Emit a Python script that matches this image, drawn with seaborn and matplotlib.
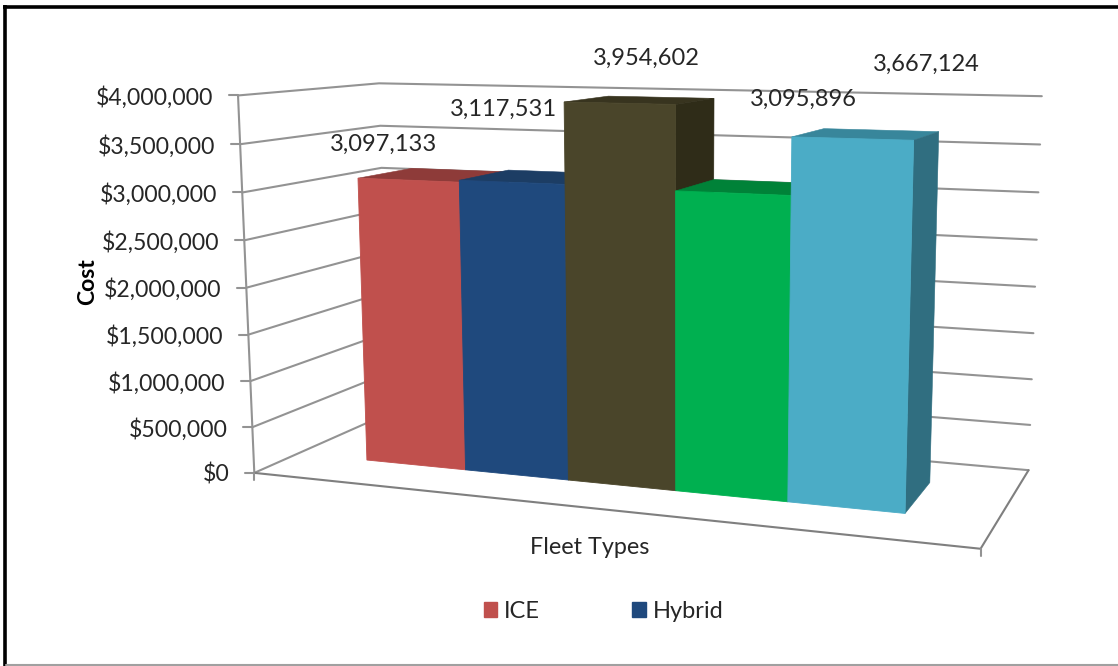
import numpy as np
import pandas as pd
import seaborn as sns
import matplotlib.pyplot as plt
from matplotlib.patches import Patch, Polygon
from matplotlib.transforms import Transform

# values
fleets = ['ICE', 'Hybrid', 'Fleet 3', 'Fleet 4', 'Fleet 5']
costs = [3097133, 3117531, 3954602, 3095896, 3667124]
front_colors = ['#C0504D', '#1F497D', '#4A452A', '#00B050', '#4BACC6']
top_colors = ['#8E3B39', '#1C3D64', '#38341F', '#008238', '#38869B']
side_colors = ['#7F3331', '#17324F', '#2F2C18', '#006A2E', '#306E80']
tick_values = [0, 500000, 1000000, 1500000, 2000000, 2500000, 3000000, 3500000, 4000000]
# the labels were dragged around by hand in the original, centres in pixels
label_spots = [(384, 144.5), (503, 109.5), (646, 58), (803, 99), (926, 64)]

W, H = 1118, 666
TOP = 4000000
GRID = '#939393'
TEXT = '#262626'

sns.set_style('white')
plt.rcParams['font.family'] = ['Lato', 'DejaVu Sans']

# the box of the 3D chart: (along x, up, depth) -> pixel, fitted to the corners seen in the picture
corners = [((0, 0, 0), (253, 473)), ((1, 0, 0), (981, 548)), ((0, 0, 1), (390, 413)),
           ((1, 0, 1), (1028, 471)), ((0, 1, 0), (239, 96)), ((0, 1, 1), (378, 83)),
           ((1, 1, 1), (1042, 96))]
rows, rhs = [], []
for (a, b, c), (px, py) in corners:
    rows.append([a, b, c, 1, 0, 0, 0, 0, -px*a, -px*b, -px*c])
    rhs.append(px)
    rows.append([0, 0, 0, 0, a, b, c, 1, -py*a, -py*b, -py*c])
    rhs.append(py)
# a vertical edge stays a straight line, so 7 corners are enough for the 11 unknowns
sol = np.linalg.lstsq(np.array(rows, float), np.array(rhs, float), rcond=None)[0]
P = np.append(sol, 1.0).reshape(3, 4)


def project(u, v, w):
    q = P @ np.array([u, v / TOP, w, 1.0])
    return q[0] / q[2], q[1] / q[2]


# where the bars sit inside the box
U_LEFT, U_RIGHT = 0.111, 0.884
W_FRONT, W_BACK = 0.30, 0.71


def to_u(x):
    return U_LEFT + (x + 0.5) / len(fleets) * (U_RIGHT - U_LEFT)


class FrontFace(Transform):
    # sends the (category, value) of the barplot to pixels on the front plane of the bars
    input_dims = 2
    output_dims = 2
    is_affine = False

    def transform_non_affine(self, xy):
        xy = np.asarray(xy, float)
        return np.array([project(to_u(x), y, W_FRONT) for x, y in xy])


fig = plt.figure(figsize=(W / 100, H / 100), dpi=100)
box = fig.add_axes([0, 0, 1, 1], zorder=0)
box.set_xlim(0, W)
box.set_ylim(H, 0)
box.axis('off')

# walls and floor
for tv in tick_values:
    a = project(0, tv, 0)
    b = project(0, tv, 1)
    c = project(1, tv, 1)
    box.plot([a[0], b[0], c[0]], [a[1], b[1], c[1]], color=GRID, lw=1.5)
    box.plot([a[0] - 9, a[0]], [a[1], a[1]], color=GRID, lw=1.5)
    box.text(a[0] - 25, a[1] + 2, f'${tv:,}', ha='right', va='center', fontsize=16.6, color=TEXT)

edge = [project(0, 0, 0), project(0, TOP, 0)]
box.plot([p[0] for p in edge], [p[1] for p in edge], color=GRID, lw=1.5)
floor = [project(0, 0, 0), project(1, 0, 0), project(1, 0, 1)]
box.plot([p[0] for p in floor], [p[1] for p in floor], color='#7F7F7F', lw=1.5)
for p in floor[:2]:
    box.plot([p[0], p[0]], [p[1], p[1] + 7], color=GRID, lw=1.5)

# bars
bars_ax = fig.add_axes([0, 0, 1, 1], zorder=1)
df = pd.DataFrame({'fleet': fleets, 'cost': costs})
sns.barplot(data=df, x='fleet', y='cost', hue='fleet', palette=front_colors, width=1, saturation=1,
            legend=False, ax=bars_ax)
bars_ax.axis('off')
bars_ax.patch.set_alpha(0)
for i, bar in enumerate(bars_ax.patches):
    x0 = bar.get_x()
    x1 = x0 + bar.get_width()
    v = bar.get_height()
    bar.set_transform(FrontFace() + box.transData)
    bar.set_clip_on(False)
    bar.set_zorder(5 + i * 3)
    # same colour edge, otherwise a light seam shows between the faces
    bar.set_edgecolor(front_colors[i])
    bar.set_linewidth(0.6)
    u0, u1 = to_u(x0), to_u(x1)
    top = [project(u0, v, W_FRONT), project(u1, v, W_FRONT), project(u1, v, W_BACK), project(u0, v, W_BACK)]
    side = [project(u1, 0, W_FRONT), project(u1, v, W_FRONT), project(u1, v, W_BACK), project(u1, 0, W_BACK)]
    bars_ax.add_patch(Polygon(top, closed=True, fc=top_colors[i], ec=top_colors[i], lw=0.4,
                              transform=box.transData, clip_on=False, zorder=3 + i * 3))
    bars_ax.add_patch(Polygon(side, closed=True, fc=side_colors[i], ec=side_colors[i], lw=0.4,
                              transform=box.transData, clip_on=False, zorder=4 + i * 3))
bars_ax.set_xlim(-1, 5)

# texts on top of the bars axes
over = fig.add_axes([0, 0, 1, 1], zorder=2)
over.set_xlim(0, W)
over.set_ylim(H, 0)
over.axis('off')
for i, spot in enumerate(label_spots):
    over.text(spot[0], spot[1], f'{costs[i]:,}', ha='center', va='center', fontsize=17, color=TEXT)
over.text(88, 282, 'Cost', rotation=90, ha='center', va='center', fontsize=16.5, fontweight='bold', color='black')
over.text(590, 547, 'Fleet Types', ha='center', va='center', fontsize=16.8, color=TEXT)
handles = [Patch(color=front_colors[0], label=fleets[0]), Patch(color=front_colors[1], label=fleets[1])]
over.legend(handles=handles, ncol=2, loc='center', bbox_to_anchor=(603.5 / W, 1 - 611 / H), frameon=False,
            fontsize=17, handlelength=0.58, handleheight=0.6, handletextpad=0.28, columnspacing=3.9,
            labelcolor=TEXT)

# frame of the screenshot
over.plot([4.5, 4.5], [5, H], color='black', lw=2.6, solid_capstyle='butt')
over.plot([3, W], [6.5, 6.5], color='black', lw=2.6, solid_capstyle='butt')
over.plot([6, W], [664.5, 664.5], color='#A0A0A0', lw=1.5)

fig.savefig('out.png', dpi=100)
